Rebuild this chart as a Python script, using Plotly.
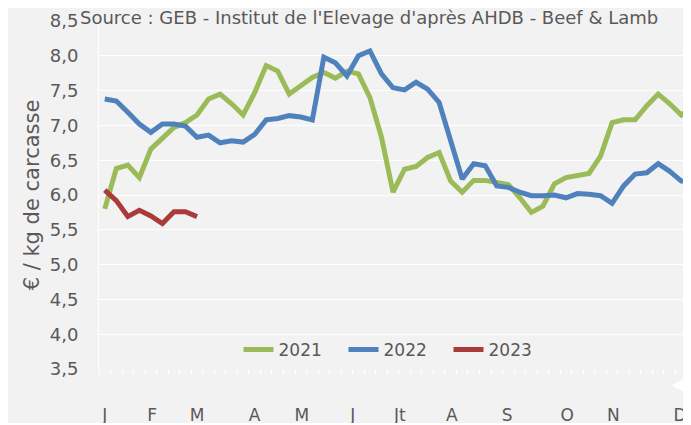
import plotly.graph_objects as go

# semaines 1..52 (index 0..51)
semaines = list(range(52))

prix_2021 = [5.80, 6.38, 6.43, 6.25, 6.66, 6.81, 6.97, 7.04, 7.15, 7.38,
             7.45, 7.31, 7.15, 7.47, 7.86, 7.78, 7.45, 7.57, 7.69, 7.76,
             7.68, 7.78, 7.74, 7.40, 6.83, 6.04, 6.37, 6.41, 6.54, 6.61,
             6.20, 6.04, 6.21, 6.21, 6.18, 6.15, 5.96, 5.75, 5.84, 6.16,
             6.25, 6.28, 6.31, 6.56, 7.04, 7.08, 7.08, 7.28, 7.45, 7.31,
             7.15, 7.28]

prix_2022 = [7.38, 7.35, 7.19, 7.02, 6.90, 7.02, 7.02, 6.99, 6.83, 6.86,
             6.75, 6.78, 6.76, 6.87, 7.08, 7.10, 7.14, 7.12, 7.08, 7.98,
             7.90, 7.71, 8.00, 8.07, 7.74, 7.54, 7.51, 7.62, 7.52, 7.33,
             6.78, 6.23, 6.45, 6.42, 6.13, 6.11, 6.04, 5.99, 5.99, 6.00,
             5.96, 6.02, 6.01, 5.99, 5.88, 6.13, 6.30, 6.32, 6.45, 6.34,
             6.20, 6.20]

prix_2023 = [6.07, 5.92, 5.69, 5.78, 5.70, 5.59, 5.76, 5.76, 5.69]

mois_labels = ['J', 'F', 'M', 'A', 'M', 'J', 'Jt', 'A', 'S', 'O', 'N', 'D']
mois_pos = [0, 4.1, 8.0, 13.0, 17.1, 21.5, 25.6, 30.1, 34.9, 40.1, 44.1, 49.9]

FONT = 'DejaVu Sans'
GRIS = '#595959'
PW = 592  # largeur zone de tracé en px
PH = 348  # hauteur zone de tracé en px

fig = go.Figure()

fig.add_trace(go.Scatter(x=semaines, y=prix_2021, name='2021', mode='lines',
                         line=dict(color='#9bbb59', width=5)))
fig.add_trace(go.Scatter(x=semaines, y=prix_2022, name='2022', mode='lines',
                         line=dict(color='#4f81bd', width=5)))
fig.add_trace(go.Scatter(x=semaines[:len(prix_2023)], y=prix_2023, name='2023', mode='lines',
                         line=dict(color='#a93c3a', width=5)))

# bordure blanche en bas
fig.add_shape(type='rect', xref='paper', yref='paper',
              x0=-0.2, x1=1.01, y0=-56 / PH, y1=-54 / PH,
              fillcolor='white', line_width=0, layer='above')
# forme blanche en bas a droite
fig.add_shape(type='path', xref='paper', yref='paper',
              path=f'M 1.02 {-1 / PH} Q {1 - 17 / PW} {-14 / PH} {1 - 19 / PW} {-16 / PH} '
                   f'Q {1 - 17 / PW} {-20 / PH} 1.02 {-29 / PH} Z',
              fillcolor='white', line_width=0, layer='above')

fig.add_annotation(text="Source : GEB - Institut de l'Elevage d'après AHDB - Beef & Lamb",
                   xref='paper', yref='paper', x=-21 / PW, y=1.0, yshift=-9,
                   xanchor='left', yanchor='bottom', showarrow=False,
                   font=dict(family=FONT, size=18, color=GRIS))

fig.update_layout(
    width=683, height=417,
    margin=dict(l=91, r=0, t=13, b=56, autoexpand=False),
    paper_bgcolor='#f2f2f2',
    plot_bgcolor='#f2f2f2',
    separators=', ',
    font=dict(family=FONT, size=17, color=GRIS),
    showlegend=True,
    legend=dict(orientation='h', x=297 / PW, y=19 / PH, xanchor='center', yanchor='middle',
                font=dict(size=17, color=GRIS), bgcolor='rgba(0,0,0,0)',
                itemwidth=30, entrywidth=60),
)

fig.update_xaxes(
    range=[-0.5, -0.5 + PW / 11.53],
    tickvals=mois_pos, ticktext=mois_labels,
    ticks='outside', ticklen=0,
    ticklabelstandoff=31, automargin=False, ticklabeloverflow='allow',
    showgrid=False, zeroline=False, showline=False,
    minor=dict(tick0=-0.5, dtick=1, ticks='outside', ticklen=5, tickcolor='#ffffff', showgrid=False),
    tickfont=dict(size=17, color=GRIS),
)

fig.update_yaxes(
    range=[3.5, 8.5], dtick=0.5, tickformat='.1f',
    showgrid=True, gridcolor='#ffffff', gridwidth=1,
    zeroline=False, showline=True, linecolor='#ffffff', linewidth=1,
    ticklabelstandoff=16, automargin=False,
    tickfont=dict(size=18, color=GRIS),
    title=dict(text='€ / kg de carcasse', font=dict(size=21, color=GRIS), standoff=4),
)

fig.write_html('out.html')
